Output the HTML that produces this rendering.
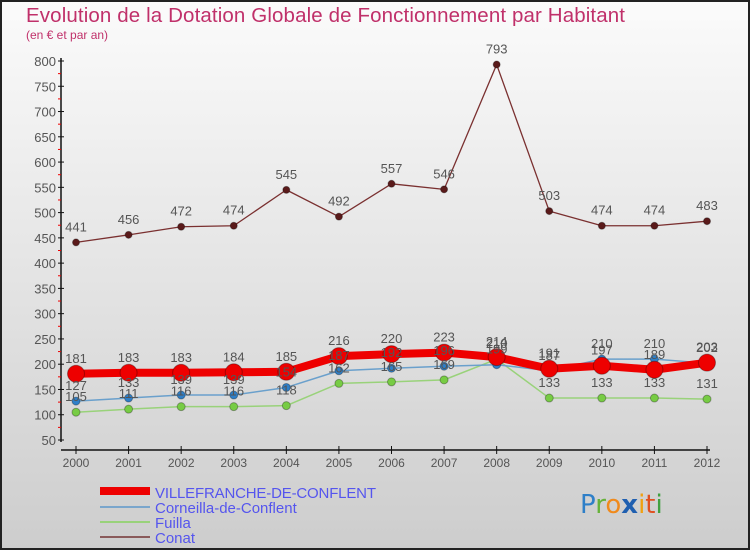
<!DOCTYPE html>
<html><head><meta charset="utf-8"><style>
body{margin:0;padding:0;}
svg{display:block;font-family:"Liberation Sans",sans-serif;}
</style></head><body>
<svg id="chart" width="750" height="550" viewBox="0 0 750 550">
<defs><linearGradient id="bg" x1="0" y1="0" x2="0" y2="1"><stop offset="0" stop-color="#fbfbfb"/><stop offset="1" stop-color="#cdcdcd"/></linearGradient></defs>
<rect x="1" y="1" width="748" height="548" fill="url(#bg)" stroke="#222" stroke-width="2"/>
<text x="26" y="22" font-size="20.5" fill="#c0306a" textLength="599">Evolution de la Dotation Globale de Fonctionnement par Habitant</text>
<text x="26" y="39" font-size="12" fill="#c0306a">(en € et par an)</text>
<g id="axes"></g>
<g id="series"></g>
<g id="labels"></g>
<g id="legend">
<rect x="100" y="487" width="50" height="8" fill="#ee0000"/>
<text x="155" y="498" font-size="15" fill="#5555ee" textLength="221">VILLEFRANCHE-DE-CONFLENT</text>
<line x1="100" y1="507" x2="150" y2="507" stroke="#7aa6cc" stroke-width="2"/>
<text x="155" y="513" font-size="15" fill="#5555ee">Corneilla-de-Conflent</text>
<line x1="100" y1="522" x2="150" y2="522" stroke="#99d27a" stroke-width="2"/>
<text x="155" y="528" font-size="15" fill="#5555ee">Fuilla</text>
<line x1="100" y1="537" x2="150" y2="537" stroke="#8a5a5a" stroke-width="2"/>
<text x="155" y="543" font-size="15" fill="#5555ee">Conat</text>
</g>
<g font-size="26" font-family="'DejaVu Sans',sans-serif">
<text x="580" y="513"><tspan fill="#2e7fc8">P</tspan><tspan fill="#66b23a">r</tspan><tspan fill="#f08a1c">o</tspan><tspan fill="#1f5fb0" font-weight="bold">x</tspan><tspan fill="#f0a010">i</tspan><tspan fill="#e05020">t</tspan><tspan fill="#40a040">i</tspan></text>
</g>
</svg>
<script>
const years=[2000,2001,2002,2003,2004,2005,2006,2007,2008,2009,2010,2011,2012];
const villefranche=[181,183,183,184,185,216,220,223,214,191,197,189,203];
const corneilla=[127,133,139,139,154,187,192,196,199,187,210,210,202];
const fuilla=[105,111,116,116,118,162,165,169,210,133,133,133,131];
const conat=[441,456,472,474,545,492,557,546,793,503,474,474,483];
const yTicks=[50,100,150,200,250,300,350,400,450,500,550,600,650,700,750,800];
const NS="http://www.w3.org/2000/svg";
const X=i=>76+i*(707-76)/(years.length-1);
const Y=v=>440-(v-50)*(440-61)/750;
function mk(tag,attrs,parent,text){const e=document.createElementNS(NS,tag);for(const k in attrs)e.setAttribute(k,attrs[k]);if(text!==undefined)e.textContent=text;parent.appendChild(e);return e;}
const axes=document.getElementById('axes');
let a=mk('line',{x1:61,y1:58,x2:61,y2:442,stroke:'#111','stroke-width':1.5},axes);


a=mk('line',{x1:61,y1:450,x2:710,y2:450,stroke:'#111','stroke-width':1.5},axes);


yTicks.forEach((v,i)=>{
 mk('line',{x1:58,y1:Y(v),x2:64,y2:Y(v),stroke:'#111'},axes);
 if(i<yTicks.length-1) mk('line',{x1:58,y1:Y(v+25),x2:61,y2:Y(v+25),stroke:'#e00'},axes);
 const t=mk('text',{x:56,y:Y(v)+5,'font-size':13,fill:'#555','text-anchor':'end'},axes,v);
 
 
});
years.forEach((y,i)=>{
 mk('line',{x1:X(i),y1:446,x2:X(i),y2:454,stroke:'#111'},axes);
 const t=mk('text',{x:X(i),y:467,'font-size':12,fill:'#555','text-anchor':'middle'},axes,y);
 
 
});
const sg=document.getElementById('series'),lg=document.getElementById('labels');
function series(data,name,color,w,r,dot){
 const p=mk('polyline',{points:data.map((v,i)=>X(i)+','+Y(v)).join(' '),fill:'none',stroke:color,'stroke-width':w,'stroke-linejoin':'round'},sg);
 
 
 data.forEach((v,i)=>{
  const c=mk('circle',{cx:X(i),cy:Y(v),r:r,fill:dot,stroke:'rgba(0,0,0,0.3)','stroke-width':1},sg);
  
  
  const t=mk('text',{x:X(i),y:Y(v)-11,'font-size':13,fill:'#555','text-anchor':'middle'},lg,v);
  
  
 });
}
series(conat,'conat','#7a3030',1.3,3.5,'#5a1a1a');
series(fuilla,'fuilla','#99d27a',1.5,4,'#77cc44');
series(corneilla,'corneilla','#6aa0cc',1.5,4,'#2e7fc8');
series(villefranche,'villefranche','#ee0000',8,8.5,'#ee0000');
</script>
</body></html>
